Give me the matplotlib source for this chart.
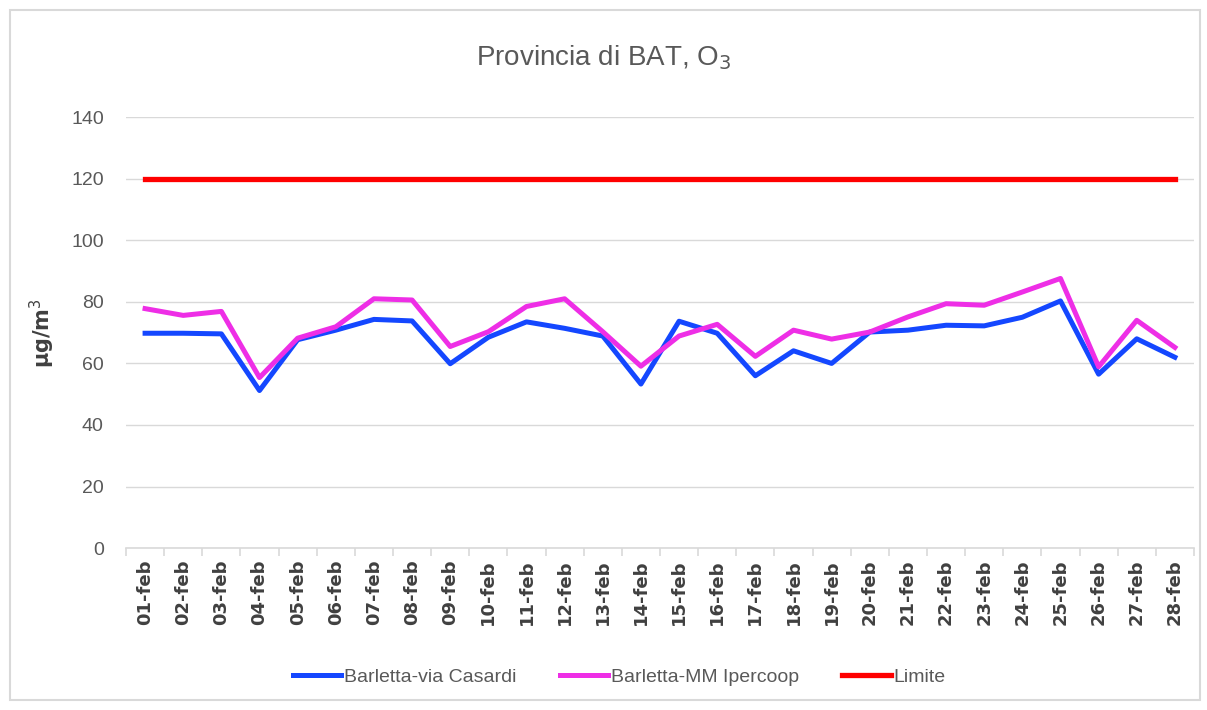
import matplotlib.pyplot as plt
from matplotlib.patches import Rectangle

days = ["%02d-feb" % d for d in range(1, 29)]
casardi = [69.8, 69.8, 69.6, 51.2, 67.7, 70.8, 74.3, 73.8, 59.9, 68.5,
           73.5, 71.4, 68.9, 53.3, 73.7, 69.8, 56.0, 64.1, 60.0, 70.2,
           70.8, 72.4, 72.2, 75.0, 80.3, 56.5, 68.0, 62.0]
ipercoop = [77.8, 75.6, 76.9, 55.4, 68.2, 71.9, 81.0, 80.6, 65.5, 70.3,
            78.5, 81.0, 70.3, 59.1, 68.9, 72.7, 62.3, 70.8, 67.9, 70.2,
            75.1, 79.4, 78.9, 83.2, 87.6, 58.9, 74.0, 65.2]
limite = [120] * 28

plt.rcParams['font.family'] = ['Liberation Sans Narrow', 'Liberation Sans', 'DejaVu Sans']

fig = plt.figure(figsize=(12.07, 7.10), dpi=100)
fig.patches.append(Rectangle((0.008, 0.014), 0.986, 0.972, transform=fig.transFigure,
                             fill=False, edgecolor="#d9d9d9", linewidth=1.5))
ax = fig.add_axes([0.1044, 0.228, 0.8848, 0.607])

x = range(len(days))
ax.plot(x, casardi, color="#1447ff", lw=3.6, label="Barletta-via Casardi")
ax.plot(x, ipercoop, color="#ee2ee6", lw=3.6, label="Barletta-MM Ipercoop")
ax.plot(x, limite, color="#ff0000", lw=3.8, label="Limite")

ax.set_xlim(-0.5, len(days) - 0.5)
ax.set_ylim(0, 140)
ax.set_yticks(range(0, 141, 20))
ax.grid(axis="y", color="#d9d9d9", lw=1)
ax.set_axisbelow(True)
for s in ["top", "right", "left"]:
    ax.spines[s].set_visible(False)
ax.spines["bottom"].set_color("#d9d9d9")
ax.spines["bottom"].set_linewidth(1.2)

ax.set_xticks([i - 0.5 for i in range(len(days) + 1)])
ax.set_xticklabels([])
ax.tick_params(axis="x", which="major", length=6, color="#d9d9d9", width=1.2)
ax.set_xticks(list(x), minor=True)
ax.set_xticklabels(days, minor=True, rotation=90, fontsize=13, color="#404040",
                   family=['DejaVu Sans'], fontweight="bold")
ax.tick_params(axis="x", which="minor", length=0, pad=8)
ax.tick_params(axis="y", length=0, labelsize=14, labelcolor="#595959", pad=16)

ax.set_ylabel("µg/m$^3$", fontsize=15, fontweight="bold", color="#404040",
              family=['DejaVu Sans'], labelpad=10)
fig.text(0.5, 0.908, "Provincia di BAT, O$_3$", ha="center", fontsize=20, color="#595959")

fig.legend(loc="center", bbox_to_anchor=(0.513, 0.046), ncol=3, frameon=False,
           fontsize=14, labelcolor="#595959", handlelength=2.5, handletextpad=0.15,
           columnspacing=2.2)

fig.savefig("out.png", dpi=100)
